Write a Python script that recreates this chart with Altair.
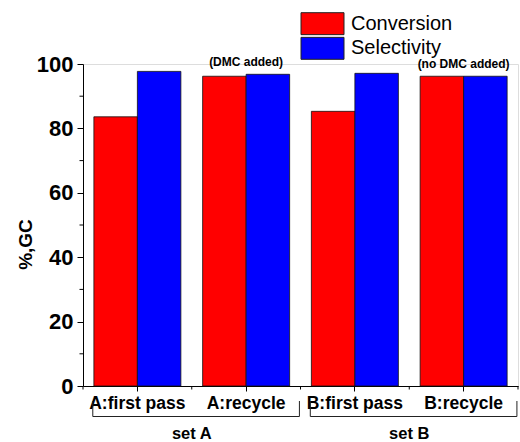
import altair as alt
import pandas as pd

# Measured results
categories = ["A:first pass", "A:recycle", "B:first pass", "B:recycle"]
conversion = [83.6, 96.2, 85.3, 96.2]
selectivity = [97.7, 96.8, 97.1, 96.2]
series_names = ["Conversion", "Selectivity"]
set_names = ["set A", "set B"]
set_members = [["A:first pass", "A:recycle"], ["B:first pass", "B:recycle"]]
notes = {"A:recycle": "(DMC added)", "B:recycle": "(no DMC added)"}

W, H = 435, 322
FONT = "Liberation Sans"

rows = []
for c, cv, sv in zip(categories, conversion, selectivity):
    rows.append({"cat": c, "series": "Conversion", "value": cv})
    rows.append({"cat": c, "series": "Selectivity", "value": sv})
bars_df = pd.DataFrame(rows)

note_df = pd.DataFrame([
    {"cat": c, "note": n,
     "top": max(conversion[categories.index(c)], selectivity[categories.index(c)])}
    for c, n in notes.items()
])
legend_df = pd.DataFrame({"series": series_names})

# helper positions on a continuous category index (0..4)
idx = {c: i for i, c in enumerate(categories)}
bracket_rows = []
for name, members in zip(set_names, set_members):
    start = idx[members[0]]
    end = idx[members[-1]] + 1
    bracket_rows.append({"set": name, "x0": start + 0.09, "x1": end - 0.01,
                         "mid": (start + end) / 2})
br_df = pd.DataFrame(bracket_rows)
edge_df = pd.DataFrame({"b": list(range(len(categories) + 1))})

xband = alt.Scale(domain=categories, paddingInner=0.2, paddingOuter=0.1)
hscale = alt.Scale(domain=[0, len(categories)], nice=False, zero=False)
yscale = alt.Scale(domain=[0, 100], nice=False)
cscale = alt.Scale(domain=series_names, range=["#FF0000", "#0000FF"])
# legend rows sit above the plot area
lscale = alt.Scale(domain=series_names, range=[-51.3, -4.7], paddingInner=0.11,
                   paddingOuter=0)

bars = alt.Chart(bars_df).mark_bar(stroke="#111111", strokeWidth=0.8).encode(
    x=alt.X("cat:N", scale=xband, sort=categories, title=None,
            axis=alt.Axis(labelAngle=0, labelFont=FONT, labelFontSize=17.5,
                          labelFontWeight="bold", labelColor="black",
                          tickSize=5, tickColor="black", domainColor="black",
                          labelPadding=3)),
    xOffset=alt.XOffset("series:N", scale=alt.Scale(domain=series_names)),
    y=alt.Y("value:Q", scale=yscale, title="%,GC",
            axis=alt.Axis(values=[0, 20, 40, 60, 80, 100], grid=False,
                          labelFont=FONT, labelFontSize=22, labelFontWeight="bold",
                          labelColor="black", tickSize=6, tickColor="black",
                          domainColor="black", labelPadding=4,
                          titleFont=FONT, titleFontSize=19, titleFontWeight="bold",
                          titleColor="black", titleX=-58, titleY=180,
                          titleAngle=-90, titleAlign="center", titleBaseline="middle")),
    color=alt.Color("series:N", scale=cscale, legend=None),
)

note_text = alt.Chart(note_df).mark_text(font=FONT, fontSize=12, fontWeight="bold",
                                         baseline="bottom", dy=-5, color="black").encode(
    x=alt.X("cat:N", scale=xband, sort=categories, axis=None),
    y=alt.Y("top:Q", scale=yscale, axis=None),
    text="note:N",
)

# minor ticks at category boundaries
edge_ticks = alt.Chart(edge_df).mark_rule(color="black", strokeWidth=1).encode(
    x=alt.X("b:Q", scale=hscale, axis=None),
    y=alt.value(H), y2=alt.value(H + 3.5),
)

# minor y ticks
ymin_df = pd.DataFrame({"v": [10, 30, 50, 70, 90]})
y_minor = alt.Chart(ymin_df).mark_rule(color="black", strokeWidth=1).encode(
    y=alt.Y("v:Q", scale=yscale, axis=None),
    x=alt.value(-3.5), x2=alt.value(0),
)

br_h = alt.Chart(br_df).mark_rule(color="#222222", strokeWidth=1).encode(
    x=alt.X("x0:Q", scale=hscale, axis=None), x2="x1:Q",
    y=alt.value(H + 30.5),
)
br_l = alt.Chart(br_df).mark_rule(color="#222222", strokeWidth=1).encode(
    x=alt.X("x0:Q", scale=hscale, axis=None),
    y=alt.value(H + 15), y2=alt.value(H + 30.5),
)
br_r = alt.Chart(br_df).mark_rule(color="#222222", strokeWidth=1).encode(
    x=alt.X("x1:Q", scale=hscale, axis=None),
    y=alt.value(H + 15), y2=alt.value(H + 30.5),
)
set_text = alt.Chart(br_df).mark_text(font=FONT, fontSize=16.5, fontWeight="bold",
                                      baseline="middle", color="black").encode(
    x=alt.X("mid:Q", scale=hscale, axis=None),
    y=alt.value(H + 48),
    text="set:N",
)

# legend: swatches and labels
leg_swatch = alt.Chart(legend_df).mark_rect(stroke="#222222", strokeWidth=1).encode(
    y=alt.Y("series:N", scale=lscale, axis=None, sort=series_names),
    x=alt.value(218), x2=alt.value(261),
    color=alt.Color("series:N", scale=cscale, legend=None),
)
leg_text = alt.Chart(legend_df).mark_text(font=FONT, fontSize=20, align="left",
                                          baseline="middle", color="black").encode(
    y=alt.Y("series:N", scale=lscale, axis=None, sort=series_names),
    x=alt.value(268),
    text="series:N",
)

chart = alt.layer(
    bars, note_text, edge_ticks, y_minor, br_h, br_l, br_r, set_text,
    leg_swatch, leg_text
).resolve_scale(x="independent", y="independent").properties(
    width=W, height=H,
    autosize=alt.AutoSizeParams(type="none"),
    padding={"left": 83, "top": 64, "right": 2, "bottom": 56},
).configure_view(strokeWidth=0).configure(background="white")

chart.save("out.html", embed_options={"renderer": "svg", "actions": False})
